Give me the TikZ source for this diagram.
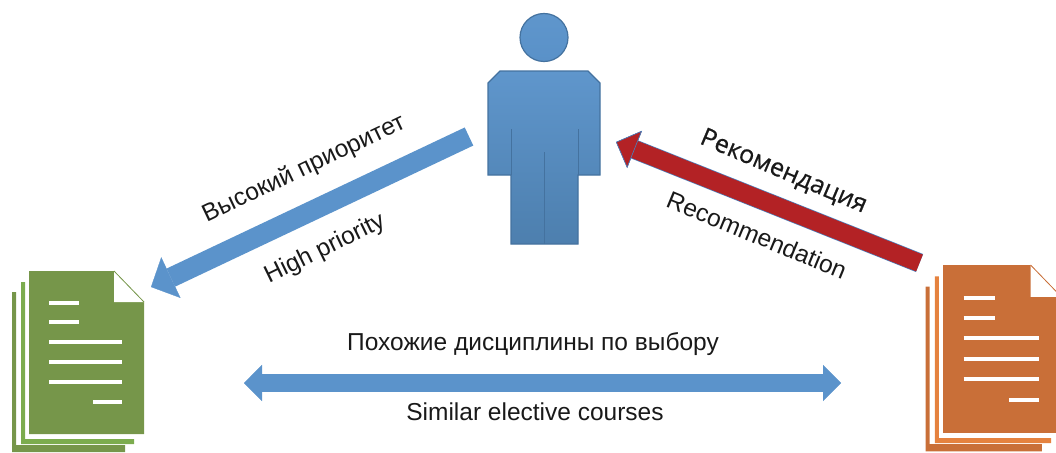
\documentclass[tikz,border=0pt]{standalone}
\usepackage{fontspec}
\setmainfont{Liberation Sans}
\newfontfamily\titlefont[FakeBold=0.6]{Open Sans}
\usetikzlibrary{arrows.meta}

\definecolor{PersonTop}{HTML}{5F96CC}
\definecolor{PersonBottom}{HTML}{4D7FAE}
\definecolor{PersonLine}{HTML}{44729F}
\definecolor{ArrowBlue}{HTML}{5B93CB}
\definecolor{ArrowLine}{HTML}{4A7EBB}
\definecolor{ArrowRed}{HTML}{B32225}
\definecolor{DocGreen}{HTML}{76964A}
\definecolor{DocGreenB}{HTML}{7CAC4E}
\definecolor{DocOrange}{HTML}{C96F38}
\definecolor{DocOrangeB}{HTML}{E5823F}

\tikzset{
  person/.style={draw=PersonLine, line width=1.2pt, top color=PersonTop, bottom color=PersonBottom},
  seam/.style={draw=PersonLine, line width=1pt},
  textline/.style={draw=white, line width=4pt},
  label/.style={font=\fontsize{24.5}{26}\selectfont, text=black!90},
  bluearrow/.style={draw=ArrowBlue, line width=20pt,
    -{Triangle[length=22pt,width=45pt,color=ArrowBlue,fill=ArrowBlue,line width=.3pt]}},
  redarrow/.style={draw=ArrowRed, line width=18pt,
    -{Triangle[length=20pt,width=40pt,color=ArrowLine,fill=ArrowRed,line width=.6pt]},
    preaction={draw=ArrowLine, line width=19.4pt}},
  bothway/.style={draw=ArrowBlue, line width=18pt,
    {Triangle[length=18pt,width=36pt,color=ArrowBlue,fill=ArrowBlue,line width=.3pt]}-{Triangle[length=18pt,width=36pt,color=ArrowBlue,fill=ArrowBlue,line width=.3pt]}},
}

% document stack: main colour, colour of the middle sheet, left, top, scale
\newcommand{\DocStack}[5]{
\begin{scope}[shift={(#3,#4)}, x=#5pt, y=-#5pt]
  \fill[#1] (-17,21) -- (-13,21) -- (-13,174) -- (96,174) -- (96,181) -- (-17,181) -- cycle;
  \fill[#2] (-8,11) -- (-4,11) -- (-4,168) -- (105,168) -- (105,173) -- (-8,173) -- cycle;
  \fill[#1] (0,0) -- (85,0) -- (115,31) -- (115,163) -- (0,163) -- cycle;
  \fill[white] (85,0) -- (115,31) -- (85,31) -- cycle;
  \draw[#1, line width=.8pt] (85,0) -- (115,31);
  \foreach \y in {32,51} \draw[textline] (20,\y) -- (50,\y);
  \foreach \y in {71,91,111} \draw[textline] (20,\y) -- (93,\y);
  \draw[textline] (64,131) -- (93,131);
\end{scope}
}

\begin{document}
\begin{tikzpicture}[x=1pt,y=-1pt]
\useasboundingbox (0,0) rectangle (1056,452);

% person
\node[person, bottom color=ArrowBlue!90!PersonBottom, circle, minimum size=48pt, inner sep=0pt] (head) at (544,37.5) {};
\path[person] (500,71) -- (588,71) -- (600,83) -- (600,175) -- (578,175) -- (578,244)
  -- (511,244) -- (511,175) -- (488,175) -- (488,83) -- cycle;
\draw[seam] (511,129) -- (511,175);
\draw[seam] (578,129) -- (578,175);
\draw[seam] (544,152) -- (544,244);

% documents
\DocStack{DocGreen}{DocGreenB}{29}{271}{1}
\DocStack{DocOrange}{DocOrangeB}{943}{265}{1.03}

% arrows
\coordinate (blueTail) at (469,136.5);
\coordinate (blueTip) at (151,287);
\coordinate (redTail) at (919.5,263);
\coordinate (redTip) at (616,142);
\coordinate (simLeft) at (244,383);
\coordinate (simRight) at (841,383);
\draw[bluearrow] (blueTail) -- (blueTip);
\draw[redarrow] (redTail) -- (redTip);
\draw[bothway] (simLeft) -- (simRight);

% labels
\node[label, rotate=25.5] (highRu) at (304,169) {Высокий приоритет};
\node[label, rotate=26] (highEn) at (325,249) {High priority};
\node[label, rotate=-23, font=\titlefont\fontsize{25}{27}\selectfont] (recRu) at (783.5,172) {Рекомендация};
\node[label, rotate=-22.5] (recEn) at (757,235) {Recommendation};
\node[label] (simRu) at (533,344) {Похожие дисциплины по выбору};
\node[label] (simEn) at (535,412) {Similar elective courses};

\end{tikzpicture}
\end{document}
